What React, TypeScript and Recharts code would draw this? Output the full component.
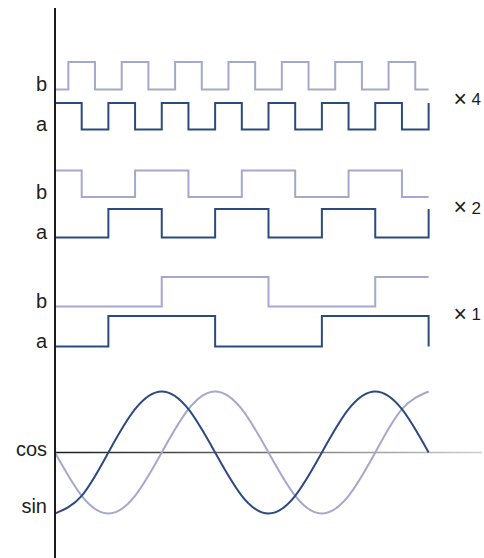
import { LineChart, Line, XAxis, YAxis, ReferenceLine } from "recharts";

// x is measured in periods of the x1 signal
const waveX = [0, 0.125, 0.25, 0.375, 0.5, 0.625, 0.75, 0.875, 1, 1.125, 1.25, 1.375, 1.5, 1.625, 1.75];
const darkWave = [-1, -0.71, 0, 0.71, 1, 0.71, 0, -0.71, -1, -0.71, 0, 0.71, 1, 0.71, 0];
const lightWave = [0, -0.71, -1, -0.71, 0, 0.71, 1, 0.71, 0, -0.71, -1, -0.71, 0, 0.71, 1];

// square waves: x of each step and its level (0 low, 1 high)
const x4aX = [0, 0, 0.125, 0.25, 0.375, 0.5, 0.625, 0.75, 0.875, 1, 1.125, 1.25, 1.375, 1.5, 1.625, 1.75];
const x4aLevel = [0, 1, 0, 1, 0, 1, 0, 1, 0, 1, 0, 1, 0, 1, 0, 1];
const x4bX = [0, 0.0625, 0.1875, 0.3125, 0.4375, 0.5625, 0.6875, 0.8125, 0.9375, 1.0625, 1.1875, 1.3125, 1.4375, 1.5625, 1.6875, 1.75];
const x4bLevel = [0, 1, 0, 1, 0, 1, 0, 1, 0, 1, 0, 1, 0, 1, 0, 0];
const x2aX = [0, 0.25, 0.5, 0.75, 1, 1.25, 1.5, 1.75];
const x2aLevel = [0, 1, 0, 1, 0, 1, 0, 1];
const x2bX = [0, 0.125, 0.375, 0.625, 0.875, 1.125, 1.375, 1.625, 1.75];
const x2bLevel = [1, 0, 1, 0, 1, 0, 1, 0, 0];
const x1aX = [0, 0.25, 0.75, 1.25, 1.75];
const x1aLevel = [0, 1, 0, 1, 0];
const x1bX = [0, 0.5, 1, 1.5, 1.75];
const x1bLevel = [0, 1, 0, 1, 1];

const leftLabels = ["b", "a", "b", "a", "b", "a", "cos", "sin"];
const rightFactors = ["4", "2", "1"];

const DARK = "#2d4a80";
const LIGHT = "#a5a8cc";
const TEXT = "#1e1e1e";
const FONT = "Liberation Sans, Arial, sans-serif";

// vertical layout (chart units = pixels from top)
const tracks = {
  x4b: { lo: 89.5, hi: 62 },
  x4a: { lo: 129.5, hi: 103 },
  x2b: { lo: 197, hi: 170.5 },
  x2a: { lo: 237.5, hi: 209 },
  x1b: { lo: 306.5, hi: 277 },
  x1a: { lo: 346.5, hi: 316 },
};
const waveCenter = 452.5;
const waveAmp = 61;
const leftLabelY = [91, 131, 198.5, 238.5, 307.5, 347.5, 456, 513];
const rightLabelY = [105, 213.5, 320];

const steps = (xs: number[], levels: number[], t: { lo: number; hi: number }) =>
  xs.map((x, i) => ({ x, y: t.lo + (t.hi - t.lo) * levels[i] }));

const wave = (values: number[]) =>
  waveX.map((x, i) => ({ x, y: waveCenter - waveAmp * values[i] }));

const LeftTick = (props: any) => {
  const { x, y, payload } = props;
  const i = leftLabelY.indexOf(payload.value);
  return (
    <text x={x} y={y} textAnchor="end" fill={TEXT} fontSize={20} fontFamily={FONT}>
      {leftLabels[i]}
    </text>
  );
};

const rightLabel = (factor: string) => (p: any) => {
  const vb = p.viewBox;
  return (
    <text x={vb.x + vb.width - 1} y={vb.y} textAnchor="end" fill={TEXT} fontSize={17} fontFamily={FONT}>
      <tspan fontSize={23} dy={1.5}>×</tspan>
      <tspan dy={-1.5}>{" " + factor}</tspan>
    </text>
  );
};

export default function App() {
  const lineProps = { dot: false, isAnimationActive: false, strokeWidth: 2 };
  return (
    <div style={{ position: "absolute", left: 0, top: 0, background: "#fff" }}>
      <LineChart width={484} height={558} margin={{ top: 8, right: 2, bottom: 0, left: 0 }}>
        <defs>
          <linearGradient id="axisFade" gradientUnits="userSpaceOnUse" x1={55} y1={0} x2={483} y2={0}>
            <stop offset="0" stopColor="#1c1c1c" />
            <stop offset="0.35" stopColor="#555" />
            <stop offset="1" stopColor="#cfcfcf" />
          </linearGradient>
        </defs>
        <XAxis type="number" dataKey="x" domain={[0, 2]} hide allowDataOverflow />
        <YAxis
          type="number"
          domain={[8, 558]}
          reversed
          width={55}
          ticks={leftLabelY}
          interval={0}
          tick={<LeftTick />}
          tickLine={false}
          tickSize={0}
          tickMargin={8}
          axisLine={{ stroke: "#1c1c1c", strokeWidth: 2 }}
          allowDataOverflow
        />
        <ReferenceLine y={waveCenter} stroke="url(#axisFade)" strokeWidth={1.5} />
        {rightFactors.map((f, i) => (
          <ReferenceLine key={f} y={rightLabelY[i]} stroke="none" label={rightLabel(f)} />
        ))}
        <Line data={steps(x4bX, x4bLevel, tracks.x4b)} dataKey="y" type="stepAfter" stroke={LIGHT} {...lineProps} />
        <Line data={steps(x4aX, x4aLevel, tracks.x4a)} dataKey="y" type="stepAfter" stroke={DARK} {...lineProps} />
        <Line data={steps(x2bX, x2bLevel, tracks.x2b)} dataKey="y" type="stepAfter" stroke={LIGHT} {...lineProps} />
        <Line data={steps(x2aX, x2aLevel, tracks.x2a)} dataKey="y" type="stepAfter" stroke={DARK} {...lineProps} />
        <Line data={steps(x1bX, x1bLevel, tracks.x1b)} dataKey="y" type="stepAfter" stroke={LIGHT} {...lineProps} />
        <Line data={steps(x1aX, x1aLevel, tracks.x1a)} dataKey="y" type="stepAfter" stroke={DARK} {...lineProps} />
        <Line data={wave(lightWave)} dataKey="y" type="natural" stroke={LIGHT} {...lineProps} />
        <Line data={wave(darkWave)} dataKey="y" type="natural" stroke={DARK} {...lineProps} />
      </LineChart>
    </div>
  );
}
